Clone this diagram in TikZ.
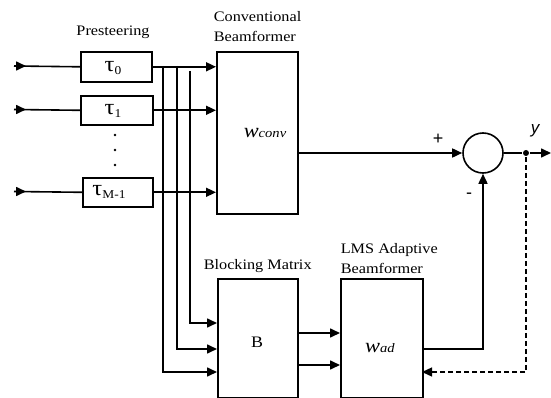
\documentclass[tikz,border=0pt]{standalone}
\usepackage{fontspec}
\setmainfont{Liberation Serif}[FakeStretch=1.12]
\newfontfamily\ysans{Liberation Sans}
\usetikzlibrary{arrows.meta}
\newcommand\tauv{{\fontsize{22}{22}\selectfont τ}}
\newcommand\subv[1]{\raisebox{-2.5pt}{\fontsize{12}{12}\selectfont #1}}
\begin{document}
\begin{tikzpicture}[x=1pt,y=-1pt, line width=1.6pt,
  box/.style={draw, line width=1.6pt, inner sep=0, anchor=north west},
  arr/.style={-{Triangle[length=10pt,width=9pt]}},
  lab/.style={font=\fontsize{14.5}{16}\selectfont, inner sep=0, anchor=base west},
  txt/.style={font=\fontsize{14.5}{16}\selectfont, inner sep=0}]
\useasboundingbox (0,0) rectangle (551,398);
% presteering boxes
\node[box, minimum width=71pt, minimum height=30pt] (t0) at (80,51) {};
\node[box, minimum width=72pt, minimum height=29pt] (t1) at (80,95) {};
\node[box, minimum width=70pt, minimum height=29pt] (tM) at (82,177) {};
\node[txt] (t0l) at (113,68) {\tauv\subv{0}};
\node[txt] (t1l) at (113,111) {\tauv\subv{1}};
\node[txt] (tMl) at (109,192) {\tauv\subv{M-1}};
\node[txt, anchor=base] (pres) at (113,36) {Presteering};
\fill (115,135) circle (1.4pt);
\fill (115,150) circle (1.4pt);
\fill (115,165) circle (1.4pt);
% blocks
\node[box, minimum width=81pt, minimum height=162pt] (conv) at (216,51) {};
\node[box, minimum width=80pt, minimum height=119pt] (B) at (217,278) {};
\node[box, minimum width=82pt, minimum height=119pt] (lms) at (340,278) {};
\node[txt] (wconv) at (265,133) {\textit{{\fontsize{20}{20}\selectfont w}{\fontsize{13}{13}\selectfont conv}}};
\node[txt, font=\fontsize{16}{16}\selectfont] (Bl) at (257,342) {B};
\node[txt] (wad) at (380,348) {\textit{{\fontsize{20}{20}\selectfont w}{\fontsize{13}{13}\selectfont ad}}};
\node[lab] (c1) at (213,22) {Conventional};
\node[lab] (c2) at (213,42) {Beamformer};
\node[lab] (bm) at (203,269) {Blocking Matrix};
\node[lab] (l1) at (340,253) {LMS Adaptive};
\node[lab] (l2) at (340,273) {Beamformer};
% summer
\node[draw, circle, minimum size=40pt, inner sep=0] (sum) at (483,153) {};
\node[circle, fill, inner sep=0, minimum size=6pt] (dot) at (526,153) {};
\node[txt, font=\fontsize{18}{18}\selectfont\ysans] (plus) at (438,139) {+};
\node[txt, font=\fontsize{18}{18}\selectfont\ysans] (minus) at (469,196) {-};
\node[font=\fontsize{17}{17}\selectfont\ysans\itshape, inner sep=0] (yl) at (535,131) {y};
% inputs
\coordinate (i0) at (14,66);
\coordinate (i1) at (14,109.5);
\coordinate (iM) at (14,191.5);
\coordinate (a0) at (26,66);
\coordinate (a1) at (26,109.5);
\coordinate (aM) at (26,191.5);
\draw (i0) -- (t0.west); \draw[arr] (i0) -- (a0);
\draw (i1) -- (t1.west); \draw[arr] (i1) -- (a1);
\draw (iM) -- (tM.west); \draw[arr] (iM) -- (aM);
% to conventional
\draw[arr] (t0.east) -- (t0.east -| conv.west);
\draw[arr] (t1.east) -- (t1.east -| conv.west);
\draw[arr] (tM.east) -- (tM.east -| conv.west);
% to blocking matrix
\coordinate (v1) at (163,66);
\coordinate (v2) at (177,66);
\coordinate (v3) at (190,71);
\coordinate (b1) at (217,372);
\coordinate (b2) at (217,349);
\coordinate (b3) at (217,323);
\draw[arr] (v1) |- (b1);
\draw[arr] (v2) |- (b2);
\draw[arr] (v3) |- (b3);
% B to LMS
\coordinate (bo1) at (297,333);
\coordinate (bo2) at (297,365);
\coordinate (li1) at (340,333);
\coordinate (li2) at (340,365);
\draw[arr] (bo1) -- (li1);
\draw[arr] (bo2) -- (li2);
% conv to summer
\draw[arr] (conv.east |- sum) -- (sum.west);
\draw (sum.east) -- (dot);
\coordinate (out) at (551,153);
\draw[arr] (dot) -- (out);
% LMS output to summer
\coordinate (lo) at (422,349);
\draw[arr] (lo) -| (sum.south);
% feedback
\coordinate (fb) at (422,372);
\draw[arr, dash pattern=on 5pt off 3pt, line width=1.3pt] (dot) |- (fb);
\end{tikzpicture}
\end{document}
